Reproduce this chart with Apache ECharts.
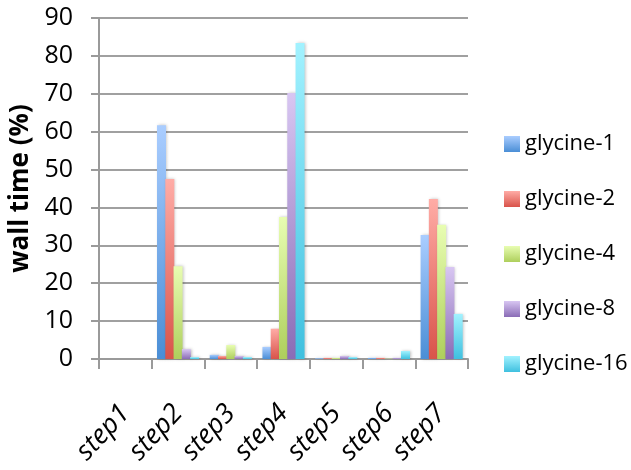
<!DOCTYPE html>
<html><head><meta charset="utf-8">
<script src="https://cdn.jsdelivr.net/npm/echarts@6/dist/echarts.min.js"></script>
<style>html,body{margin:0;padding:0;background:#fff}#c{width:631px;height:470px}</style>
</head><body><div id="c"></div>
<script>
const categories = ['step1','step2','step3','step4','step5','step6','step7'];
const seriesNames = ['glycine-1','glycine-2','glycine-4','glycine-8','glycine-16'];
const glycine1 = [0, 61.7, 1.1, 3.2, 0.2, 0.3, 32.7];
const glycine2 = [0, 47.5, 0.8, 8.0, 0.3, 0.3, 42.2];
const glycine4 = [0, 24.5, 3.7, 37.5, 0.3, 0.1, 35.4];
const glycine8 = [0, 2.6, 0.8, 70.2, 0.8, 0.3, 24.3];
const glycine16 = [0, 0.5, 0.5, 83.4, 0.5, 2.1, 11.9];
const yTicks = [0,10,20,30,40,50,60,70,80,90];

const seriesData = [glycine1, glycine2, glycine4, glycine8, glycine16];
const grads = [
  ['#aacdff', '#4a8ed6'],
  ['#ffaca6', '#d9534a'],
  ['#e8fdb2', '#aecf5c'],
  ['#d8c6f2', '#8a6cb6'],
  ['#a2f2ff', '#3fc0df']
];
const chart = echarts.init(document.getElementById('c'), null, {renderer:'canvas'});
const font = "'Open Sans', sans-serif";
chart.setOption({
  backgroundColor: '#fff',
  animation: false,
  grid: {left: 99, right: 163, top: 18, bottom: 111, containLabel: false, outerBoundsMode: 'none'},
  legend: {
    orient: 'vertical', left: 499, top: 127,
    itemWidth: 16, itemHeight: 16, itemGap: 31,
    icon: 'rect',
    textStyle: {fontFamily: font, fontSize: 22, color: '#000', lineHeight: 24},
    data: seriesNames
  },
  xAxis: {
    type: 'category', data: categories,
    axisLine: {lineStyle: {color: '#9a9a9a', width: 2}},
    axisTick: {show: true, length: 10, lineStyle: {color: '#9a9a9a', width: 2}},
    axisLabel: {rotate: 47, margin: 50, fontFamily: font, fontStyle: 'italic', fontSize: 27, color: '#000'}
  },
  yAxis: {
    type: 'value', min: yTicks[0], max: yTicks[yTicks.length-1], interval: 10,
    name: 'wall time (%)', nameLocation: 'middle', nameGap: 60, nameRotate: 90,
    nameTextStyle: {fontFamily: font, fontWeight: 'bold', fontSize: 26, color: '#000'},
    axisLine: {show: true, lineStyle: {color: '#9a9a9a', width: 2}},
    axisTick: {show: true, length: 8, lineStyle: {color: '#9a9a9a', width: 2}},
    axisLabel: {margin: 26, fontFamily: font, fontSize: 25, color: '#000'},
    splitLine: {lineStyle: {color: '#a0a0a0', width: 2}}
  },
  series: seriesData.map((d, i) => ({
    name: seriesNames[i], type: 'bar', data: d,
    barWidth: 9, barGap: '-8%', barCategoryGap: '20%',
    itemStyle: {
      color: new echarts.graphic.LinearGradient(0, 0, 0, 1, [
        {offset: 0, color: grads[i][0]}, {offset: 1, color: grads[i][1]}
      ]),
      shadowColor: 'rgba(0,0,0,0.25)', shadowBlur: 3, shadowOffsetX: 1, shadowOffsetY: 0
    }
  }))
});
</script></body></html>
